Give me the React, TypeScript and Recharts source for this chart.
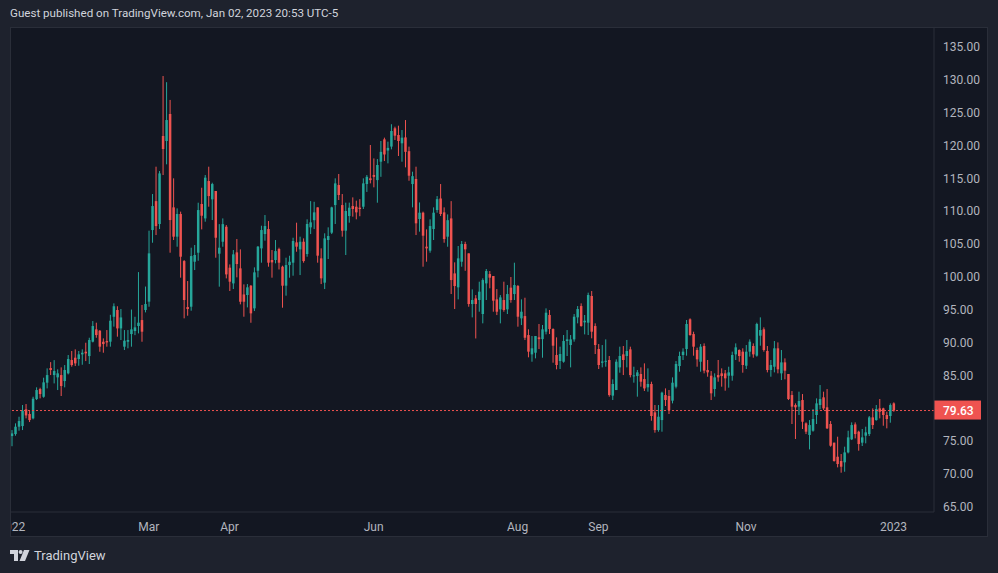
import React from "react";
import {
  ComposedChart,
  Bar,
  XAxis,
  YAxis,
  ReferenceLine,
} from "recharts";

// daily candles, [open, high, low, close]
const jan22 = [
  [75.75, 76.66, 74.2, 76.15], [76.05, 77.68, 75.8, 77.17], [77.17, 78.69, 76.56, 78.03],
  [77.27, 80.47, 76.66, 79.6], [79.81, 80.62, 78.44, 78.89], [79.1, 79.55, 77.88, 78.18],
  [78.44, 81.73, 78.29, 81.43], [81.38, 83.16, 81.23, 82.75], [82.9, 83.1, 81.48, 82.14],
  [81.73, 84.63, 81.58, 83.92], [83.87, 86.05, 83.0, 85.03], [86.1, 87.0, 85.03, 85.8],
  [85.03, 87.3, 83.76, 85.64], [84.68, 85.9, 82.75, 85.29], [85.03, 86.2, 81.84, 83.36],
  [84.12, 86.55, 83.16, 85.8], [85.29, 88.08, 85.13, 87.47], [87.32, 88.69, 86.3, 86.55],
  [87.67, 88.94, 86.4, 86.81], [87.47, 88.69, 86.45, 88.18],
];
const feb22 = [
  [88.18, 88.94, 86.6, 88.43], [88.58, 89.95, 87.16, 88.33], [87.92, 90.71, 86.71, 90.36],
  [90.11, 93.25, 90.0, 92.49], [91.98, 93.0, 90.71, 91.12], [91.78, 91.88, 88.58, 89.35],
  [90.1, 90.61, 88.43, 89.75], [90.2, 91.88, 89.35, 90.0], [90.11, 94.2, 89.35, 93.3],
  [93.9, 95.94, 92.4, 95.5], [94.93, 95.5, 90.87, 92.13], [92.13, 95.08, 90.36, 93.8],
  [89.35, 91.88, 88.84, 90.26], [90.1, 91.88, 89.1, 90.36], [91.27, 95.0, 89.35, 91.98],
  [91.73, 93.9, 91.1, 92.29], [92.5, 100.7, 91.37, 93.0], [93.4, 95.7, 90.1, 91.63],
  [94.93, 98.5, 94.57, 95.84],
];
const mar22 = [
  [96.2, 107.0, 95.43, 103.55], [107.1, 112.58, 105.17, 110.75], [111.5, 116.74, 106.34, 107.7],
  [108.02, 116.08, 107.25, 115.72], [121.41, 130.54, 115.47, 119.43], [120.65, 129.6, 117.1, 123.84],
  [124.76, 126.9, 103.65, 108.62], [110.55, 114.97, 105.58, 106.09], [106.09, 110.4, 104.56, 109.54],
  [109.54, 109.9, 99.85, 103.04], [102.38, 102.53, 93.66, 96.45], [95.38, 99.34, 94.06, 95.08],
  [95.43, 104.41, 94.82, 103.14], [102.28, 104.82, 101.01, 103.3], [103.65, 111.26, 102.43, 110.14],
  [111.06, 113.54, 107.2, 109.28], [108.87, 115.47, 108.37, 115.07], [114.56, 116.74, 110.65, 112.27],
  [111.77, 114.3, 108.62, 114.1], [113.04, 113.04, 102.89, 105.93], [103.5, 108.0, 98.48, 104.41],
  [105.32, 108.87, 104.56, 108.0], [107.6, 107.86, 99.74, 100.35],
];
const apr22 = [
  [101.37, 101.87, 97.82, 99.24], [98.98, 104.06, 98.12, 103.4], [103.7, 105.73, 99.9, 101.93],
  [101.27, 104.16, 95.79, 96.19], [97.3, 98.83, 93.91, 96.19], [97.21, 98.88, 95.33, 98.38],
  [98.63, 98.73, 92.99, 94.42], [95.18, 101.42, 94.77, 100.66], [100.91, 104.67, 99.9, 104.57],
  [104.31, 107.76, 102.13, 107.1], [106.49, 109.38, 105.48, 107.71], [107.25, 108.47, 101.52, 102.13],
  [102.54, 104.06, 99.85, 102.18], [102.54, 105.58, 102.03, 103.9], [104.21, 104.41, 101.1, 102.13],
  [101.52, 101.67, 95.28, 98.63], [98.63, 102.89, 97.11, 101.77], [101.77, 103.19, 99.85, 102.28],
  [102.13, 105.93, 100.15, 105.43], [105.22, 108.22, 103.8, 104.57],
];
const may22 = [
  [104.16, 106.09, 100.25, 105.32], [105.32, 105.83, 102.13, 102.38], [103.45, 108.73, 103.04, 108.02],
  [107.51, 111.5, 106.49, 108.27], [108.6, 111.4, 107.25, 109.79], [110.55, 110.55, 102.13, 103.2],
  [102.79, 104.31, 98.88, 99.75], [99.09, 106.6, 98.12, 105.83], [105.58, 107.51, 102.69, 106.19],
  [106.7, 110.65, 106.49, 110.55], [110.9, 114.97, 108.02, 114.2], [113.95, 115.63, 111.67, 112.43],
  [110.9, 112.58, 106.09, 107.0], [107.0, 111.27, 103.3, 110.0], [109.23, 111.27, 108.22, 110.5],
  [110.75, 112.07, 109.13, 110.3], [110.65, 111.57, 108.73, 109.79], [110.5, 111.8, 109.2, 110.3],
  [110.65, 114.97, 110.3, 114.2], [114.1, 115.47, 112.9, 115.2], [114.97, 120.04, 114.2, 114.7],
];
const jun22 = [
  [115.47, 118.0, 113.6, 115.2], [114.7, 117.9, 111.26, 117.0], [117.5, 120.65, 115.2, 119.0],
  [120.9, 121.16, 117.6, 118.6], [119.2, 120.55, 117.25, 119.6], [119.8, 123.2, 119.38, 122.17],
  [122.58, 122.83, 120.8, 121.46], [121.56, 122.98, 118.37, 120.65], [120.3, 122.32, 117.5, 121.16],
  [121.2, 123.84, 116.64, 119.0], [119.1, 119.79, 114.6, 115.37], [114.1, 115.98, 110.55, 115.3],
  [114.87, 116.74, 106.34, 108.12], [108.78, 111.3, 106.85, 109.74], [109.74, 109.9, 101.52, 106.24],
  [104.57, 107.2, 102.28, 104.31], [103.96, 108.73, 103.65, 107.71], [107.25, 110.55, 105.58, 109.74],
  [110.15, 112.27, 109.74, 111.8], [111.9, 114.1, 109.23, 109.54], [109.79, 110.55, 105.17, 105.73],
];
const jul22 = [
  [106.09, 109.48, 104.56, 108.6], [108.87, 111.5, 97.36, 99.49], [100.5, 102.18, 95.08, 98.58],
  [98.38, 104.67, 96.55, 102.79], [102.28, 105.43, 101.52, 104.97], [104.97, 105.32, 100.9, 104.16],
  [103.55, 103.55, 95.43, 95.84], [95.84, 98.07, 93.81, 96.45], [96.7, 97.2, 90.6, 95.84],
  [96.45, 99.24, 94.67, 97.72], [94.32, 99.75, 92.9, 99.49], [98.98, 101.17, 96.45, 100.86],
  [100.4, 100.86, 98.23, 99.85], [100.1, 100.1, 94.67, 96.35], [96.55, 98.12, 94.16, 94.67],
  [95.03, 97.2, 92.9, 96.85], [96.45, 99.24, 94.67, 94.93], [95.03, 98.73, 94.32, 97.36],
  [98.33, 99.95, 96.04, 96.45], [97.36, 102.13, 96.45, 98.73],
];
const aug22 = [
  [98.58, 98.73, 92.39, 93.91], [93.66, 96.55, 92.64, 94.67], [94.01, 96.8, 90.36, 90.71],
  [91.12, 91.99, 87.73, 88.59], [88.18, 90.97, 87.06, 89.1], [88.43, 90.97, 87.57, 90.97],
  [90.77, 92.8, 88.99, 90.5], [90.5, 92.65, 87.67, 91.99], [91.63, 95.18, 91.22, 94.52],
  [94.17, 94.93, 91.27, 92.04], [92.04, 92.14, 86.91, 89.5], [88.08, 90.77, 85.9, 86.56],
  [87.17, 89.35, 85.95, 88.23], [87.06, 91.12, 86.91, 90.21], [90.21, 91.88, 87.93, 90.46],
  [89.6, 91.12, 86.2, 90.46], [90.46, 94.32, 90.11, 93.91], [93.81, 95.53, 92.9, 95.08],
  [95.53, 95.94, 92.39, 92.49], [93.05, 94.17, 91.22, 93.3], [93.0, 97.57, 91.12, 97.21],
  [97.06, 97.82, 90.62, 91.63], [92.49, 92.9, 88.23, 89.6],
];
const sep22 = [
  [88.99, 89.75, 85.95, 86.56], [86.9, 89.6, 86.2, 87.1], [87.1, 90.46, 86.3, 87.2],
  [87.32, 87.93, 81.74, 81.99], [81.9, 84.38, 81.23, 83.67], [82.75, 87.42, 82.75, 87.06],
  [86.2, 89.35, 85.39, 87.93], [88.18, 89.45, 85.03, 87.32], [87.93, 90.36, 86.2, 88.69],
  [88.94, 89.35, 84.68, 85.03], [84.88, 86.3, 83.87, 84.98], [84.88, 85.8, 81.74, 85.44],
  [85.19, 86.2, 83.26, 84.02], [84.42, 86.81, 82.6, 83.0], [83.16, 86.05, 82.5, 83.67],
  [83.67, 84.02, 78.08, 78.8], [79.35, 80.47, 76.26, 76.66], [76.66, 80.47, 76.41, 78.69],
  [78.18, 82.5, 76.41, 82.35], [81.99, 83.0, 80.32, 81.23], [81.84, 82.75, 79.1, 79.7],
];
const oct22 = [
  [81.13, 84.68, 80.72, 83.87], [83.26, 87.16, 83.0, 86.71], [86.4, 88.59, 85.54, 87.93],
  [88.08, 89.1, 87.32, 88.59], [88.99, 93.41, 87.98, 92.8], [93.51, 93.66, 91.02, 91.12],
  [91.27, 91.63, 87.98, 89.35], [88.84, 89.2, 86.3, 87.42], [87.06, 89.75, 85.54, 89.35],
  [89.45, 89.85, 85.29, 85.7], [85.8, 87.32, 84.78, 85.44], [84.93, 85.64, 81.23, 82.25],
  [82.91, 85.29, 81.74, 84.68], [85.03, 87.32, 84.02, 84.68], [85.29, 86.05, 83.26, 84.88],
  [85.29, 85.8, 82.65, 84.53], [84.93, 86.3, 83.11, 85.44], [84.93, 88.59, 84.17, 88.08],
  [88.18, 89.85, 87.32, 89.25], [88.84, 88.94, 87.06, 87.93], [88.59, 89.1, 85.39, 86.56],
];
const nov22 = [
  [86.45, 89.6, 85.95, 88.59], [88.59, 90.46, 87.83, 90.11], [89.45, 89.85, 87.67, 88.18],
  [87.98, 93.0, 87.83, 92.8], [91.02, 93.81, 89.5, 91.88], [91.99, 92.29, 88.59, 88.84],
  [88.69, 89.45, 85.44, 85.8], [85.8, 87.32, 84.78, 86.56], [86.3, 90.21, 85.44, 89.1],
  [89.1, 90.0, 85.29, 85.9], [85.29, 88.84, 84.27, 86.96], [86.96, 87.57, 84.38, 85.7],
  [85.19, 85.19, 81.23, 81.38], [81.99, 82.6, 77.58, 80.22], [80.47, 80.72, 75.3, 80.12],
  [80.22, 82.5, 78.95, 81.08], [81.23, 82.14, 76.82, 77.93], [77.68, 77.83, 76.05, 76.41],
  [75.91, 78.18, 73.72, 77.42], [76.56, 79.86, 76.41, 78.34], [78.95, 81.48, 77.58, 80.72],
];
const dec22 = [
  [80.47, 83.51, 79.81, 81.38], [81.64, 82.5, 79.71, 79.96], [80.12, 82.9, 76.82, 76.92],
  [77.58, 78.03, 74.13, 74.28], [74.74, 74.74, 71.85, 71.95], [72.6, 75.65, 70.98, 71.49],
  [71.95, 73.01, 70.17, 71.08], [71.75, 74.13, 70.32, 73.26], [73.26, 76.56, 73.11, 75.55],
  [75.25, 77.83, 75.14, 77.42], [77.52, 77.83, 75.39, 76.05], [76.41, 76.56, 73.52, 74.53],
  [74.74, 76.82, 74.23, 75.55], [75.8, 77.17, 74.64, 76.31], [76.05, 78.8, 75.75, 78.59],
  [78.59, 79.96, 76.82, 77.42], [78.18, 80.47, 78.08, 79.86], [79.96, 81.38, 78.44, 79.45],
  [79.96, 80.06, 77.32, 78.95], [78.95, 79.45, 76.92, 78.34], [78.8, 80.72, 77.78, 80.47],
];
const jan23 = [[80.72, 80.88, 79.45, 79.63]];

const xTickIndex = [0, 39, 62, 103, 144, 167, 209, 251];
const xTickLabels = ["2022", "Mar", "Apr", "Jun", "Aug", "Sep", "Nov", "2023"];
const yTicks = [65, 70, 75, 80, 85, 90, 95, 100, 105, 110, 115, 120, 125, 130, 135];

const UP = "#26a69a";
const DOWN = "#ef5350";
const TEXT = "#b2b5be";
const LINE = "#2a2e39";
const FONT = "Roboto, 'Noto Sans', sans-serif";

const CHART_W = 978;
const CHART_H = 510;
const AXIS_W = 54;
const SLOTS = 263; // bar slots incl. empty space on the right

const candles = [
  ...jan22, ...feb22, ...mar22, ...apr22, ...may22, ...jun22,
  ...jul22, ...aug22, ...sep22, ...oct22, ...nov22, ...dec22, ...jan23,
];

const data: any[] = [];
for (let i = 0; i < SLOTS; i++) {
  const k = candles[i];
  if (k) {
    const [o, h, l, c] = k;
    data.push({ i, o, h, l, c, range: [l, h] });
  } else {
    data.push({ i });
  }
}
const lastClose = candles[candles.length - 1][3];
// the last-price tag hides the axis labels it covers
const shownTicks = yTicks.filter((t) => Math.abs(t - lastClose) > 2);

const Candle = (props: any) => {
  const { x, y, width, height, payload } = props;
  if (!payload || payload.o == null) return null;
  const { o, h, l, c } = payload;
  const color = c >= o ? UP : DOWN;
  const top = Math.min(y, y + height);
  const span = Math.abs(height);
  const k = h === l ? 0 : span / (h - l);
  const cx = x + width / 2;
  const bodyTop = top + (h - Math.max(o, c)) * k;
  const bodyH = Math.max(1, Math.abs(o - c) * k);
  const bw = 2.5;
  return (
    <g>
      <line x1={cx} x2={cx} y1={top} y2={top + span} stroke={color} strokeWidth={1} />
      <rect x={cx - bw / 2} y={bodyTop} width={bw} height={bodyH} fill={color} />
    </g>
  );
};

const TimeTick = (props: any) => {
  const { x, payload } = props;
  const label = xTickLabels[xTickIndex.indexOf(payload.value)];
  return (
    <g>
      <defs>
        <clipPath id={`tclip-${payload.value}`}>
          <rect x={1} y={485} width={CHART_W - AXIS_W - 1} height={25} />
        </clipPath>
      </defs>
      <text
        x={x}
        y={504}
        textAnchor="middle"
        fill={TEXT}
        fontSize={12}
        fontFamily={FONT}
        clipPath={`url(#tclip-${payload.value})`}
      >
        {label}
      </text>
    </g>
  );
};

const PriceTick = (props: any) => {
  const { y, payload } = props;
  return (
    <text
      x={CHART_W - AXIS_W + 9}
      y={y + 4.5}
      textAnchor="start"
      fill={TEXT}
      fontSize={12}
      fontFamily={FONT}
    >
      {payload.value.toFixed(2)}
    </text>
  );
};

const LastPriceLabel = (props: any) => {
  const vb = props.viewBox || {};
  const x0 = (vb.x || 0) + (vb.width || 0);
  const y0 = vb.y || 0;
  return (
    <g>
      <rect x={x0} y={y0 - 10} width={47} height={19} fill={DOWN} />
      <text
        x={x0 + 9}
        y={y0 + 4.5}
        fill="#ffffff"
        fontSize={12}
        fontWeight={500}
        fontFamily={FONT}
      >
        {lastClose.toFixed(2)}
      </text>
    </g>
  );
};

const TvLogo = () => (
  <svg width={20} height={11} viewBox="0 0 20 11">
    <path d="M0 0h8v11H4V4H0z" fill="#d1d4dc" />
    <circle cx={10.6} cy={2} r={2} fill="#d1d4dc" />
    <path d="M14 0h5.5L15 11H9.5z" fill="#d1d4dc" />
  </svg>
);

export default function App() {
  return (
    <div
      style={{
        position: "absolute",
        left: 0,
        top: 0,
        width: 998,
        height: 573,
        background: "#1e222d",
        fontFamily: FONT,
        overflow: "hidden",
      }}
    >
      <div
        style={{
          position: "absolute",
          left: 10,
          top: 6,
          fontSize: 11.6,
          lineHeight: "14px",
          color: "#d1d4dc",
          whiteSpace: "nowrap",
        }}
      >
        Guest published on TradingView.com, Jan 02, 2023 20:53 UTC-5
      </div>

      <div
        style={{
          position: "absolute",
          left: 10,
          top: 27,
          width: CHART_W,
          height: CHART_H,
          background: "#131722",
        }}
      >
        <ComposedChart
          width={CHART_W}
          height={CHART_H}
          data={data}
          margin={{ top: 0, right: 0, bottom: 0, left: 0 }}
          barCategoryGap={0}
          barGap={0}
        >
          <XAxis
            dataKey="i"
            type="category"
            ticks={xTickIndex}
            interval={0}
            height={25}
            tickLine={false}
            axisLine={{ stroke: LINE }}
            tick={<TimeTick />}
          />
          <YAxis
            orientation="right"
            width={AXIS_W}
            domain={[64.19, 138]}
            ticks={shownTicks}
            allowDataOverflow
            tickLine={false}
            axisLine={{ stroke: LINE }}
            tick={<PriceTick />}
          />
          <ReferenceLine
            y={lastClose}
            stroke={DOWN}
            strokeDasharray="2 2"
            label={<LastPriceLabel />}
          />
          <Bar dataKey="range" shape={<Candle />} isAnimationActive={false} />
        </ComposedChart>
      </div>

      <div
        style={{
          position: "absolute",
          left: 10,
          top: 27,
          width: CHART_W,
          height: CHART_H,
          border: `1px solid ${LINE}`,
          boxSizing: "border-box",
          pointerEvents: "none",
        }}
      />

      <div
        style={{
          position: "absolute",
          left: 10,
          top: 548,
          display: "flex",
          alignItems: "center",
          gap: 4,
          color: "#d1d4dc",
          fontSize: 13,
        }}
      >
        <TvLogo />
        <span>TradingView</span>
      </div>
    </div>
  );
}
